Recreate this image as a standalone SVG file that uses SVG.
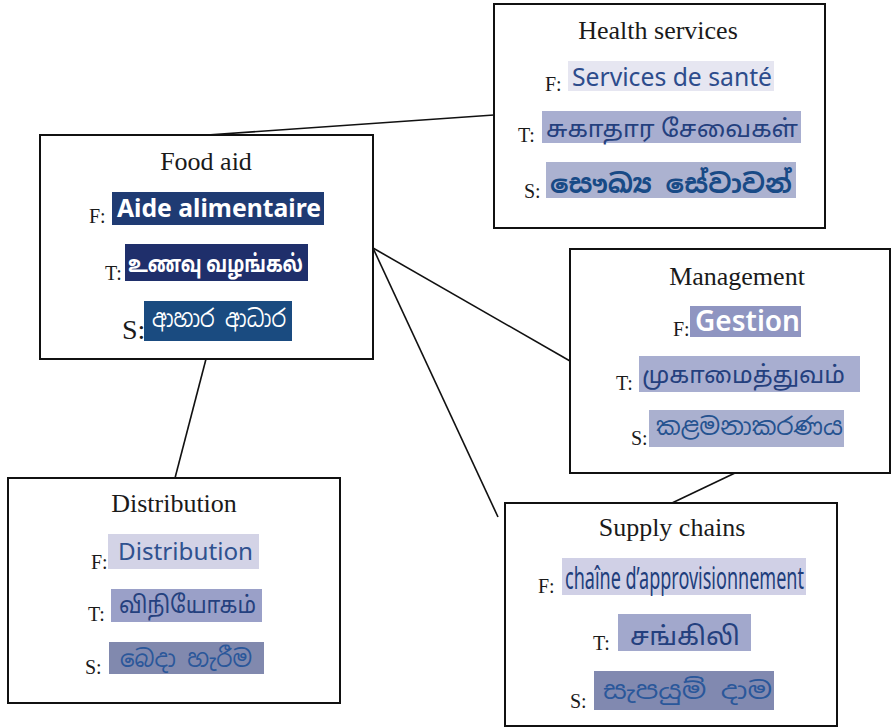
<svg xmlns="http://www.w3.org/2000/svg" width="892" height="727" viewBox="0 0 892 727">
<style>
.box{fill:#fff;stroke:#111;stroke-width:2}
.ttl{font-family:"Liberation Serif","Times New Roman",serif;font-size:26px;fill:#1a1a1a;text-anchor:middle}
.lb{font-family:"Liberation Serif","Times New Roman",serif;font-size:20px;fill:#1a1a1a}
.fr{font-family:"Noto Sans","Open Sans",sans-serif;font-size:25px}
.ta{font-family:"Noto Sans Tamil","Noto Sans","Lohit Tamil",sans-serif;font-size:24px}
.si{font-family:"Noto Sans Sinhala","Noto Sans","Lohit Sinhala",sans-serif;font-size:24px}
.conn line{stroke:#111;stroke-width:1.6}
</style>
<g class="conn" id="connectors">
<line x1="207" y1="135" x2="494" y2="115"/>
<line x1="373" y1="248" x2="570" y2="361"/>
<line x1="373" y1="248" x2="498" y2="517"/>
<line x1="206" y1="359" x2="175" y2="478"/>
<line x1="735" y1="473" x2="672" y2="503"/>
</g>
<g id="health">
<rect class="box" x="494" y="4" width="331" height="224"/>
<text class="ttl" x="658" y="39">Health services</text>
<text class="lb" x="545" y="91">F:</text>
<rect x="568" y="61" width="206" height="30" fill="#e6e6f1"/>
<text class="fr" x="572" y="86" fill="#2d4c8c" textLength="200" lengthAdjust="spacingAndGlyphs">Services de santé</text>
<text class="lb" x="518" y="142">T:</text>
<rect x="542" y="111" width="259" height="32" fill="#a8aed0"/>
<text class="ta" x="546" y="137" fill="#24407e" textLength="252" lengthAdjust="spacingAndGlyphs">சுகாதார  சேவைகள்</text>
<text class="lb" x="524" y="198">S:</text>
<rect x="546" y="162" width="250" height="36" fill="#acb2d0"/>
<text class="si" x="550" y="193" fill="#184a86" style="font-weight:bold;font-size:26px" textLength="242" lengthAdjust="spacingAndGlyphs">සෞඛ්‍ය  සේවාවන්</text>
</g>
<g id="foodaid">
<rect class="box" x="40" y="135" width="333" height="224"/>
<text class="ttl" x="206" y="170">Food aid</text>
<text class="lb" x="89" y="223">F:</text>
<rect x="112" y="192" width="212" height="33" fill="#1f3b73"/>
<text class="fr" x="117" y="217" fill="#fff" style="font-weight:bold" textLength="204" lengthAdjust="spacingAndGlyphs">Aide alimentaire</text>
<text class="lb" x="105" y="280">T:</text>
<rect x="125" y="244" width="183" height="37" fill="#1f2f6b"/>
<text class="ta" x="128" y="272" fill="#fff" style="font-weight:bold" textLength="175" lengthAdjust="spacingAndGlyphs">உணவு  வழங்கல்</text>
<text class="lb" x="122" y="339" style="font-size:28px">S:</text>
<rect x="144" y="301" width="148" height="40" fill="#1a4b80"/>
<text class="si" x="152" y="327" fill="#fff" textLength="134" lengthAdjust="spacingAndGlyphs">ආහාර ආධාර</text>
</g>
<g id="management">
<rect class="box" x="570" y="249" width="320" height="224"/>
<text class="ttl" x="737" y="285">Management</text>
<text class="lb" x="673" y="336">F:</text>
<rect x="690" y="306" width="111" height="31" fill="#8f95c1"/>
<text class="fr" x="695" y="331" fill="#fff" style="font-size:28px;font-weight:600" textLength="105" lengthAdjust="spacingAndGlyphs">Gestion</text>
<text class="lb" x="616" y="390">T:</text>
<rect x="639" y="356" width="221" height="36" fill="#a8aed0"/>
<text class="ta" x="642" y="383" fill="#24407e" textLength="203" lengthAdjust="spacingAndGlyphs">முகாமைத்துவம்</text>
<text class="lb" x="631" y="445">S:</text>
<rect x="649" y="410" width="195" height="37" fill="#aab0cf"/>
<text class="si" x="656" y="435" fill="#24528f" textLength="187" lengthAdjust="spacingAndGlyphs">කළමනාකරණය</text>
</g>
<g id="distribution">
<rect class="box" x="8" y="478" width="332" height="225"/>
<text class="ttl" x="174" y="512">Distribution</text>
<text class="lb" x="91" y="569">F:</text>
<rect x="108" y="534" width="151" height="35" fill="#d3d3e6"/>
<text class="fr" x="118" y="560" fill="#2f518f" style="font-size:23px" textLength="135" lengthAdjust="spacingAndGlyphs">Distribution</text>
<text class="lb" x="88" y="621">T:</text>
<rect x="111" y="589" width="151" height="33" fill="#9aa0c8"/>
<text class="ta" x="119" y="613" fill="#24407e" textLength="137" lengthAdjust="spacingAndGlyphs">விநியோகம்</text>
<text class="lb" x="85" y="674">S:</text>
<rect x="109" y="642" width="155" height="32" fill="#8189ae"/>
<text class="si" x="120" y="667" fill="#2a579a" textLength="132" lengthAdjust="spacingAndGlyphs">බෙදා හැරීම</text>
</g>
<g id="supply">
<rect class="box" x="505" y="503" width="332" height="223"/>
<text class="ttl" x="672" y="536">Supply chains</text>
<text class="lb" x="538" y="593">F:</text>
<rect x="562" y="558" width="244" height="37" fill="#d0d0e6"/>
<text class="fr" x="565" y="589" fill="#213e7c" style="font-size:31px" textLength="239" lengthAdjust="spacingAndGlyphs">chaîne d’approvisionnement</text>
<text class="lb" x="593" y="650">T:</text>
<rect x="618" y="614" width="133" height="37" fill="#a2a8cc"/>
<text class="ta" x="630" y="645" fill="#24407e" style="font-size:26px" textLength="110" lengthAdjust="spacingAndGlyphs">சங்கிலி</text>
<text class="lb" x="570" y="708">S:</text>
<rect x="594" y="671" width="180" height="39" fill="#8189b0"/>
<text class="si" x="603" y="699" fill="#2a579a" textLength="169" lengthAdjust="spacingAndGlyphs">සැපයුම් දාම</text>
</g>
</svg>
